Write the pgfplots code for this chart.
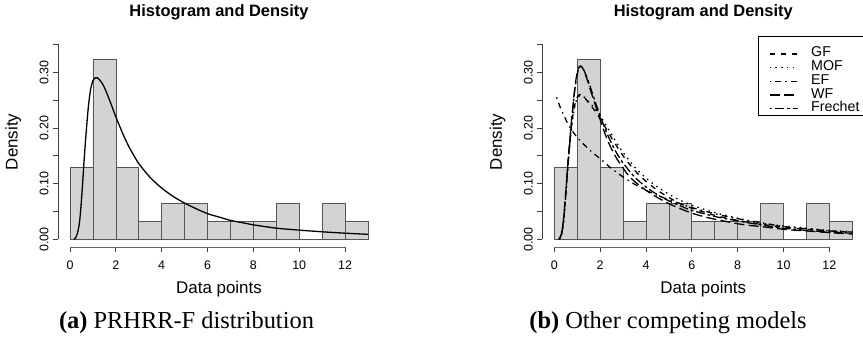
\documentclass[border=0pt]{standalone}
\usepackage{fontspec}
\setmainfont{Liberation Sans}
\newfontfamily\seriffont{Liberation Serif}
\usepackage{pgfplots}
\pgfplotsset{compat=1.18}
\definecolor{histfill}{RGB}{211,211,211}
\definecolor{histedge}{RGB}{85,85,85}

\pgfplotsset{
  rstyle/.style={
    scale only axis, width=321.8bp, height=210.4bp,
    xmin=-0.52, xmax=13.52, ymin=-0.014, ymax=0.364,
    axis line style={draw=none},
    clip=false,
    tick pos=left, tick align=outside, major tick length=5bp,
    tick style={black!75, line width=0.8bp},
    xtick={0,2,4,6,8,10,12}, xticklabels={0,2,4,6,8,10,12},
    ytick={0,0.05,0.1,0.15,0.2,0.25,0.3,0.35},
    yticklabels={0.00,,0.10,,0.20,,0.30,},
    xticklabel style={anchor=center, font=\fontsize{12.5}{14}\selectfont},
    xticklabel shift=13bp,
    yticklabel style={rotate=90, anchor=center, font=\fontsize{12.5}{14}\selectfont},
    yticklabel shift=9bp,
    title={Histogram and Density},
    title style={at={(axis description cs:0.5,1)}, anchor=center, yshift=18.4bp,
      font=\bfseries\fontsize{16.5}{18}\selectfont},
    xlabel={Data points},
    xlabel style={at={(axis description cs:0.5,-0.1977)}, anchor=center,
      font=\fontsize{17}{19}\selectfont},
    ylabel={Density},
    ylabel style={at={(axis description cs:-0.1392,0.5)}, anchor=center,
      font=\fontsize{17}{19}\selectfont},
  },
  histo/.style={ybar interval, fill=histfill, draw=histedge, line width=0.7bp, forget plot},
}

\begin{document}
\begin{tikzpicture}
\useasboundingbox (0,0) rectangle (863bp,351bp);

% ---------------- left panel ----------------
\begin{axis}[rstyle, at={(58.1bp,103.9bp)}, anchor=south west]
\addplot[histo] coordinates {
(0,0.129) (1,0.3226) (2,0.129) (3,0.0323) (4,0.0645) (5,0.0645) (6,0.0323)
(7,0.0323) (8,0.0323) (9,0.0645) (10,0) (11,0.0645) (12,0.0323) (13,0.0323)};
\addplot[black, line width=1.3bp, smooth, tension=0.4] coordinates {
(0.17,0) (0.25,0.003) (0.33,0.012) (0.41,0.029) (0.48,0.06) (0.55,0.10)
(0.62,0.145) (0.7,0.19) (0.8,0.238) (0.9,0.27) (1.0,0.285) (1.1,0.29)
(1.2,0.29) (1.3,0.286) (1.45,0.277) (1.6,0.263) (1.8,0.242) (2.0,0.22)
(2.3,0.19) (2.6,0.164) (3.0,0.136) (3.5,0.111) (4.0,0.092) (4.5,0.077)
(5.0,0.065) (5.5,0.055) (6.0,0.046) (6.5,0.040) (7.0,0.034) (7.5,0.030)
(8.0,0.026) (9.0,0.020) (10,0.0165) (11,0.0135) (12,0.011) (13,0.009)};
\draw[black!60, line width=0.9bp] (axis cs:0,-0.014) -- (axis cs:12,-0.014);
\draw[black!75, line width=0.8bp] (axis cs:-0.52,0) -- (axis cs:-0.52,0.35);
\end{axis}

% ---------------- right panel ----------------
\begin{axis}[rstyle, at={(542.4bp,103.9bp)}, anchor=south west,
  legend style={at={(axis description cs:1,1)}, anchor=north east, draw=none,
    fill=none, xshift=-4.5bp, yshift=-10.2bp,
    inner xsep=0bp, inner ysep=0bp, row sep=0pt,
    font=\fontsize{14.3}{16}\selectfont,
    nodes={inner xsep=0bp, inner ysep=0.5bp, text height=9.4bp, text depth=3.3bp}},
  legend cell align=left,
  legend image code/.code={\path (0bp,0bp) (41bp,0bp);
    \draw[#1, line width=1.2bp] (0bp,0bp) -- (28bp,0bp);},
]
\addplot[histo] coordinates {
(0,0.129) (1,0.3226) (2,0.129) (3,0.0323) (4,0.0645) (5,0.0645) (6,0.0323)
(7,0.0323) (8,0.0323) (9,0.0645) (10,0) (11,0.0645) (12,0.0323) (13,0.0323)};
% GF
\addplot[black, line width=1.3bp, dash pattern=on 5.5bp off 5.5bp, smooth, tension=0.4] coordinates {
(0.2,0) (0.3,0.008) (0.4,0.035) (0.5,0.085) (0.6,0.14) (0.7,0.185) (0.8,0.22)
(0.9,0.243) (1.0,0.255) (1.1,0.26) (1.2,0.259) (1.35,0.253) (1.5,0.245)
(1.75,0.232) (2.0,0.217) (2.3,0.196) (2.65,0.172) (3.0,0.15) (3.5,0.124)
(4,0.104) (4.5,0.088) (5,0.075) (5.5,0.064) (6,0.056) (7,0.043) (8,0.034)
(9,0.027) (10,0.022) (11,0.018) (12,0.015) (13,0.0125)};
\addlegendentry{GF}
% MOF
\addplot[black, line width=1.3bp, dash pattern=on 1.5bp off 4.3bp, smooth, tension=0.4] coordinates {
(0.2,0) (0.3,0.006) (0.4,0.03) (0.5,0.08) (0.6,0.135) (0.7,0.18) (0.8,0.215)
(0.9,0.24) (1.0,0.253) (1.1,0.258) (1.2,0.258) (1.35,0.254) (1.5,0.247)
(1.75,0.236) (2.0,0.222) (2.3,0.202) (2.65,0.178) (3.0,0.156) (3.5,0.13)
(4,0.11) (4.5,0.094) (5,0.081) (5.5,0.07) (6,0.061) (7,0.048) (8,0.038)
(9,0.029) (10,0.024) (11,0.02) (12,0.016) (13,0.014)};
\addlegendentry{MOF}
% EF
\addplot[black, line width=1.3bp, dash pattern=on 1.5bp off 4.3bp on 5.8bp off 4.3bp, smooth, tension=0.4] coordinates {
(0.1,0.255) (0.25,0.238) (0.4,0.224) (0.55,0.211) (0.7,0.2) (0.85,0.191)
(1.0,0.183) (1.25,0.172) (1.5,0.162) (1.75,0.153) (2.0,0.145) (2.5,0.127)
(3.0,0.112) (3.5,0.099) (4,0.088) (4.5,0.079) (5,0.071) (5.5,0.064) (6,0.057)
(7,0.046) (8,0.037) (9,0.03) (10,0.023) (11,0.019) (12,0.015) (13,0.013)};
\addlegendentry{EF}
% WF
\addplot[black, line width=1.3bp, dash pattern=on 10bp off 4.3bp, smooth, tension=0.4] coordinates {
(0.2,0) (0.3,0.008) (0.4,0.035) (0.5,0.085) (0.6,0.14) (0.7,0.19) (0.8,0.235)
(0.9,0.275) (1.0,0.3) (1.1,0.311) (1.2,0.31) (1.3,0.302) (1.45,0.285)
(1.6,0.265) (1.8,0.24) (2.0,0.215) (2.3,0.18) (2.65,0.15) (3.0,0.128)
(3.25,0.114) (3.5,0.104) (4,0.088) (4.5,0.075) (5,0.064) (5.5,0.055)
(6,0.047) (6.5,0.041) (7,0.036) (7.5,0.032) (8,0.028) (8.5,0.025) (9,0.023)
(10,0.018) (11,0.015) (12,0.012) (13,0.0095)};
\addlegendentry{WF}
% Frechet
\addplot[black, line width=1.3bp, dash pattern=on 2.9bp off 2.9bp on 8.7bp off 2.9bp, smooth, tension=0.4] coordinates {
(0.2,0) (0.3,0.006) (0.4,0.03) (0.5,0.08) (0.6,0.135) (0.7,0.185) (0.8,0.232)
(0.9,0.27) (1.0,0.297) (1.1,0.31) (1.2,0.309) (1.3,0.303) (1.45,0.288)
(1.6,0.27) (1.8,0.245) (2.0,0.222) (2.3,0.19) (2.65,0.16) (3.0,0.137)
(3.5,0.112) (4,0.094) (4.5,0.08) (5,0.069) (5.5,0.06) (6,0.052) (7,0.041)
(8,0.033) (9,0.026) (10,0.02) (11,0.016) (12,0.013) (13,0.011)};
\addlegendentry{Frechet}
\draw[black!60, line width=0.9bp] (axis cs:0,-0.014) -- (axis cs:12,-0.014);
\draw[black!75, line width=0.8bp] (axis cs:-0.52,0) -- (axis cs:-0.52,0.35);
\draw[black, line width=0.7bp] (axis description cs:0.671,1.0) rectangle (axis description cs:1.0,0.625);
\end{axis}

\node[font=\seriffont\fontsize{24.5}{26}\selectfont] at (186.5bp,28bp) {\textbf{(a)} PRHRR-F distribution};
\node[font=\seriffont\fontsize{24.5}{26}\selectfont] at (668bp,28bp) {\textbf{(b)} Other competing models};
\end{tikzpicture}
\end{document}
